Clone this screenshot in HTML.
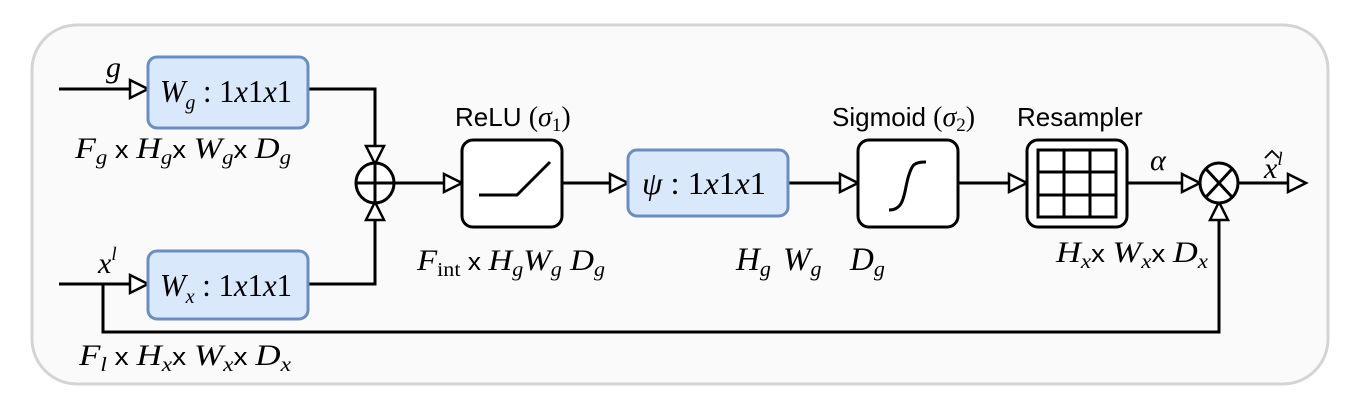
<!DOCTYPE html>
<html><head><meta charset="utf-8"><style>
html,body{margin:0;padding:0;background:#fff;}
svg{display:block}
</style></head><body>
<svg width="1359" height="417" viewBox="0 0 1359 417" xmlns="http://www.w3.org/2000/svg">
<rect x="32" y="25" width="1296" height="359" rx="45" fill="#fafafa" stroke="#d4d4d4" stroke-width="3"/>
<g stroke="#000" stroke-width="3" fill="none">
<line x1="59" y1="89" x2="132" y2="89"/>
<line x1="59" y1="284" x2="132" y2="284"/>
<polyline points="308,89 375,89 375,148"/>
<polyline points="308,284 375,284 375,218"/>
<line x1="394" y1="183" x2="446" y2="183"/>
<line x1="563" y1="183" x2="612" y2="183"/>
<line x1="789" y1="183" x2="842" y2="183"/>
<line x1="959" y1="183" x2="1011" y2="183"/>
<line x1="1128" y1="183" x2="1184" y2="183"/>
<line x1="1238" y1="183" x2="1290" y2="183"/>
<polyline points="103,284 103,332 1219,332 1219,218"/>
</g>
<g fill="#fff" stroke="#000" stroke-width="2.5">
<path d="M130,80 L148,89 L130,98 Z"/>
<path d="M130,275 L148,284 L130,293 Z"/>
<path d="M366,146 L375,164 L384,146 Z"/>
<path d="M366,220 L375,202 L384,220 Z"/>
<path d="M444,174 L462,183 L444,192 Z"/>
<path d="M610,174 L628,183 L610,192 Z"/>
<path d="M840,174 L858,183 L840,192 Z"/>
<path d="M1009,174 L1027,183 L1009,192 Z"/>
<path d="M1182,174 L1200,183 L1182,192 Z"/>
<path d="M1288,174 L1306,183 L1288,192 Z"/>
<path d="M1210,220 L1219,202 L1228,220 Z"/>
</g>
<rect x="148" y="57" width="160" height="71" rx="9" fill="#dae8fc" stroke="#6c8ebf" stroke-width="3"/>
<rect x="148" y="251" width="160" height="68" rx="9" fill="#dae8fc" stroke="#6c8ebf" stroke-width="3"/>
<rect x="628" y="150" width="160" height="66" rx="9" fill="#dae8fc" stroke="#6c8ebf" stroke-width="3"/>
<g stroke="#000" stroke-width="3" fill="#fff">
<ellipse cx="375" cy="183" rx="19" ry="20"/>
<rect x="462" y="140" width="100" height="87" rx="11"/>
<rect x="858" y="140" width="100" height="87" rx="11"/>
<rect x="1027" y="140" width="100" height="87" rx="11"/>
<ellipse cx="1219" cy="183" rx="19" ry="20"/>
</g>
<g stroke="#000" stroke-width="3" fill="none">
<line x1="356" y1="183" x2="394" y2="183"/><line x1="375" y1="163" x2="375" y2="203"/>
<polyline points="479,195 517,195 550,162"/>
<path d="M889,210 C905,210 904,192 908,178 C912,164 914,162 926,162"/>
<rect x="1038" y="150" width="78" height="67"/>
<line x1="1064" y1="150" x2="1064" y2="217"/><line x1="1090" y1="150" x2="1090" y2="217"/>
<line x1="1038" y1="172" x2="1116" y2="172"/><line x1="1038" y1="195" x2="1116" y2="195"/>
<line x1="1206" y1="169" x2="1232" y2="197"/><line x1="1232" y1="169" x2="1206" y2="197"/>
</g>
<g fill="#000" font-family="Liberation Serif, serif" font-size="32">
<text x="160" y="102" textLength="132" lengthAdjust="spacingAndGlyphs"><tspan font-style="italic">W</tspan><tspan font-size="21" dy="7" font-style="italic">g</tspan><tspan dy="-7"> : 1</tspan><tspan font-style="italic">x</tspan>1<tspan font-style="italic">x</tspan>1</text>
<text x="160" y="296" textLength="132" lengthAdjust="spacingAndGlyphs"><tspan font-style="italic">W</tspan><tspan font-size="21" dy="7" font-style="italic">x</tspan><tspan dy="-7"> : 1</tspan><tspan font-style="italic">x</tspan>1<tspan font-style="italic">x</tspan>1</text>
<text x="642" y="194" textLength="124" lengthAdjust="spacingAndGlyphs"><tspan font-style="italic">ψ</tspan> : 1<tspan font-style="italic">x</tspan>1<tspan font-style="italic">x</tspan>1</text>
</g>
<g fill="#000" font-family="Liberation Serif, serif" font-style="italic" font-size="30">
<text x="106" y="77">g</text>
<text x="98" y="273">x<tspan font-size="19" dy="-13">l</tspan></text>
<text x="75" y="158" textLength="216" lengthAdjust="spacingAndGlyphs">F<tspan font-size="20" dy="6">g</tspan><tspan dy="-6" font-family="Liberation Sans, sans-serif" font-style="normal" font-size="24"> x </tspan>H<tspan font-size="20" dy="6">g</tspan><tspan dy="-6" font-family="Liberation Sans, sans-serif" font-style="normal" font-size="24">x </tspan>W<tspan font-size="20" dy="6">g</tspan><tspan dy="-6" font-family="Liberation Sans, sans-serif" font-style="normal" font-size="24">x </tspan>D<tspan font-size="20" dy="6">g</tspan></text>
<text x="79" y="365" textLength="212" lengthAdjust="spacingAndGlyphs">F<tspan font-size="20" dy="6">l</tspan><tspan dy="-6" font-family="Liberation Sans, sans-serif" font-style="normal" font-size="24"> x </tspan>H<tspan font-size="20" dy="6">x</tspan><tspan dy="-6" font-family="Liberation Sans, sans-serif" font-style="normal" font-size="24">x </tspan>W<tspan font-size="20" dy="6">x</tspan><tspan dy="-6" font-family="Liberation Sans, sans-serif" font-style="normal" font-size="24">x </tspan>D<tspan font-size="20" dy="6">x</tspan></text>
<text x="417" y="270" textLength="188" lengthAdjust="spacingAndGlyphs">F<tspan font-size="20" dy="6" font-style="normal">int</tspan><tspan dy="-6" font-family="Liberation Sans, sans-serif" font-style="normal" font-size="24"> x </tspan>H<tspan font-size="20" dy="6">g</tspan><tspan dy="-6">W</tspan><tspan font-size="20" dy="6">g</tspan><tspan dy="-6"> D</tspan><tspan font-size="20" dy="6">g</tspan></text>
<text x="736" y="270" font-size="33">H<tspan font-size="22" dy="6">g</tspan></text>
<text x="783" y="270" font-size="33">W<tspan font-size="22" dy="6">g</tspan></text>
<text x="850" y="270" font-size="33">D<tspan font-size="22" dy="6">g</tspan></text>
<text x="1056" y="262" textLength="152" lengthAdjust="spacingAndGlyphs">H<tspan font-size="20" dy="6">x</tspan><tspan dy="-6" font-family="Liberation Sans, sans-serif" font-style="normal" font-size="24">x </tspan>W<tspan font-size="20" dy="6">x</tspan><tspan dy="-6" font-family="Liberation Sans, sans-serif" font-style="normal" font-size="24">x </tspan>D<tspan font-size="20" dy="6">x</tspan></text>
<text x="1150" y="170">α</text>
<text x="1264" y="178">x<tspan font-size="19" dy="-13">l</tspan></text>
</g>
<path d="M1265,158 L1272,151 L1279,158" stroke="#000" stroke-width="1.8" fill="none"/>
<g fill="#000" font-family="Liberation Sans, sans-serif" font-size="26">
<text x="455" y="126">ReLU <tspan font-family="Liberation Serif, serif" font-size="28">(</tspan><tspan font-family="Liberation Serif, serif" font-style="italic" font-size="28">σ</tspan><tspan font-size="19" dy="5" font-family="Liberation Serif, serif">1</tspan><tspan dy="-5" font-size="28" font-family="Liberation Serif, serif">)</tspan></text>
<text x="832" y="126">Sigmoid <tspan font-size="28" font-family="Liberation Serif, serif">(</tspan><tspan font-family="Liberation Serif, serif" font-style="italic" font-size="28">σ</tspan><tspan font-size="19" dy="5" font-family="Liberation Serif, serif">2</tspan><tspan dy="-5" font-size="28" font-family="Liberation Serif, serif">)</tspan></text>
<text x="1017" y="126">Resampler</text>
</g>
</svg>
</body></html>
